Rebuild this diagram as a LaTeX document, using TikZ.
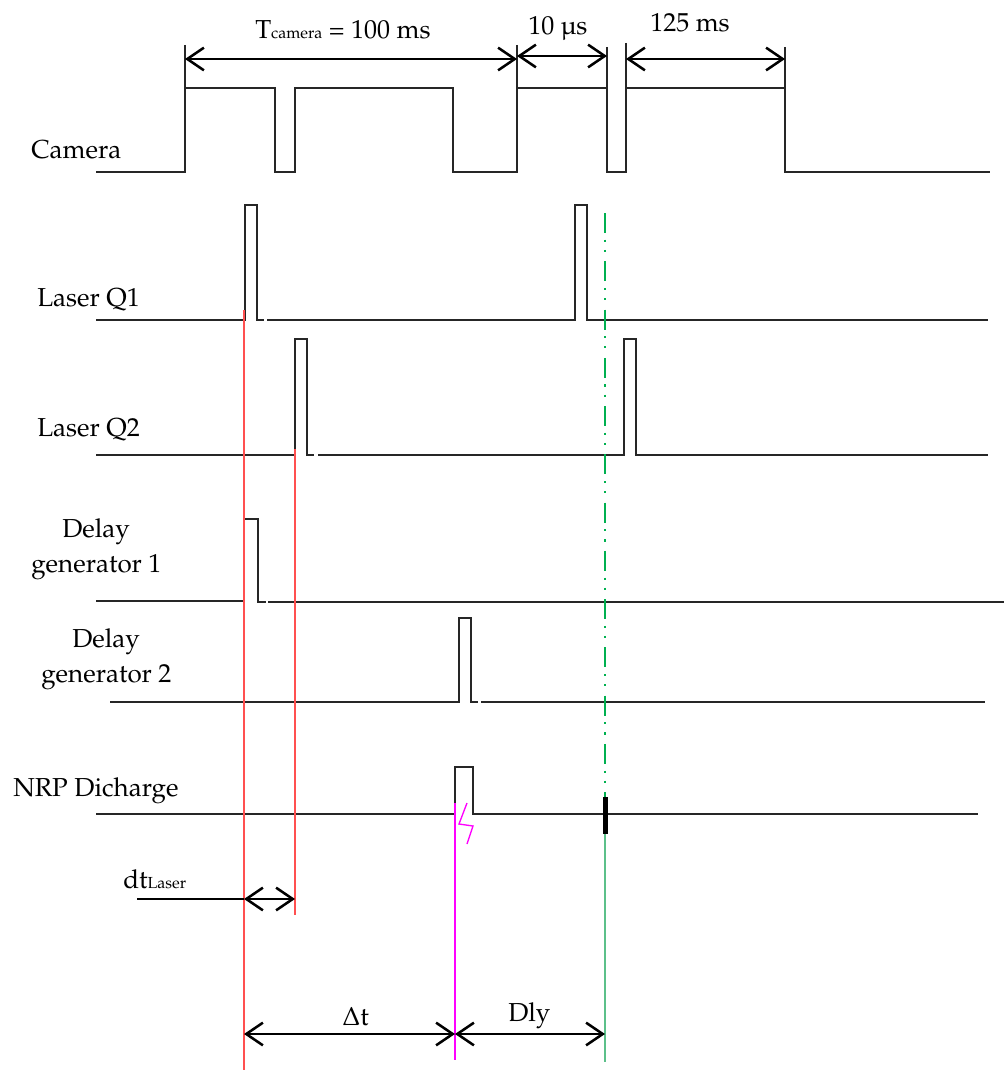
\documentclass[tikz,border=0pt]{standalone}
\usepackage[T1]{fontenc}
\usepackage{mathpazo}
\usetikzlibrary{arrows.meta}
\definecolor{redl}{HTML}{FF5050}
\definecolor{greenl}{HTML}{00B050}
\definecolor{greens}{HTML}{5CC08A}
\definecolor{magl}{HTML}{FF00FF}
\newcommand\smallsub[1]{{\fontsize{12}{12}\selectfont #1}}
\tikzset{
  sig/.style={line width=0.8pt, black!85},
  tickline/.style={line width=0.8pt, black!85},
  dimarrow/.style={line width=1.9pt, {Straight Barb[length=12.5pt,width=17pt]}-{Straight Barb[length=12.5pt,width=17pt]}},
  lbl/.style={font=\fontsize{19.5}{23}\selectfont, inner sep=0pt, anchor=base west},
  redline/.style={draw=redl, line width=1.1pt},
}
\begin{document}
\begin{tikzpicture}[x=0.75pt,y=-0.75pt]
\useasboundingbox (0,0) rectangle (1004,1070);

% ---- labels
\node[lbl] (lcam) at (31,159) {Camera};
\node[lbl] (lq1) at (37,306) {Laser Q1};
\node[lbl] (lq2) at (37,436) {Laser Q2};
\node[lbl] (ldg1a) at (62,537) {Delay};
\node[lbl] (ldg1b) at (31,572) {generator 1};
\node[lbl] (ldg2a) at (72,647) {Delay};
\node[lbl] (ldg2b) at (41,682) {generator 2};
\node[lbl] (lnrp) at (13,796) {NRP Dicharge};
\node[lbl] (ltcam) at (255,39) {T\smallsub{camera} = 100 ms};
\node[lbl] (l10) at (528,35) {10 \textmu s};
\node[lbl] (l125) at (650,32) {125 ms};
\node[lbl] (ldt) at (123,888) {dt\smallsub{Laser}};
\node[lbl] (lDt) at (342,1025) {$\Delta$t};
\node[lbl] (ldly) at (508,1021) {Dly};

% ---- camera signal
\draw[sig] (96,172) -- (185,172) -- (185,88) -- (275,88) -- (275,172) -- (295,172) -- (295,88)
  -- (453,88) -- (453,172) -- (517,172) -- (517,88) -- (607,88) -- (607,172) -- (626,172)
  -- (626,88) -- (785,88) -- (785,172) -- (990,172);
\draw[tickline] (185,45) -- (185,88);
\draw[tickline] (517,45) -- (517,88);
\draw[tickline] (607,47) -- (607,88);
\draw[tickline] (626,43) -- (626,88);
\draw[tickline] (785,47) -- (785,88);

% ---- dimension arrows (top)
\coordinate (ta) at (185,59);
\coordinate (tb) at (517,59);
\coordinate (ua) at (517,56);
\coordinate (ub) at (607,56);
\coordinate (va) at (626,59);
\coordinate (vb) at (785,59);
\draw[dimarrow] (ta) -- (tb);
\draw[dimarrow] (ua) -- (ub);
\draw[dimarrow] (va) -- (vb);

% ---- Laser Q1
\draw[sig] (96,320) -- (245,320) -- (245,205) -- (257,205) -- (257,320) -- (264,320);
\draw[sig] (267,320) -- (575,320) -- (575,205) -- (587,205) -- (587,320) -- (988,320);

% ---- Laser Q2
\draw[sig] (96,455) -- (295,455) -- (295,339) -- (307,339) -- (307,455) -- (314,455);
\draw[sig] (318,455) -- (624,455) -- (624,339) -- (636,339) -- (636,455) -- (988,455);

% ---- Delay generator 1
\draw[sig] (96,601) -- (244,601) -- (244,519) -- (258,519) -- (258,602) -- (266,602);
\draw[sig] (268,602) -- (1004,602);

% ---- Delay generator 2
\draw[sig] (110,702) -- (459,702) -- (459,618) -- (471,618) -- (471,702) -- (478,702);
\draw[sig] (481,702) -- (985,702);

% ---- NRP discharge
\draw[sig] (96,814) -- (455,814) -- (455,767) -- (473,767) -- (473,814) -- (978,814);
\fill[black] (603,797) rectangle (608,834);

% ---- vertical markers
\draw[redline] (244,310) -- (244,1070);
\draw[redline] (295,449) -- (295,915);
\draw[magl, line width=1pt] (455,803) -- (455,1060);
\draw[magl, line width=1pt] (467,803) -- (459,824) -- (473,826) -- (467,844);
\draw[greenl, line width=1.6pt, dash pattern=on 15pt off 5pt on 1.6pt off 6pt on 1.6pt off 7pt] (605,213) -- (605,797);
\draw[greens, line width=1.1pt] (605,834) -- (605,1062);

% ---- dt laser
\coordinate (da) at (137,899);
\coordinate (db) at (244,899);
\coordinate (dc) at (295,899);
\draw[line width=1.2pt] (da) -- (db);
\draw[dimarrow] (db) -- (dc);

% ---- bottom arrows
\coordinate (ba) at (244,1034);
\coordinate (bb) at (455,1034);
\coordinate (bc) at (605,1034);
\draw[dimarrow] (ba) -- (bb);
\draw[dimarrow] (bb) -- (bc);
\end{tikzpicture}
\end{document}
